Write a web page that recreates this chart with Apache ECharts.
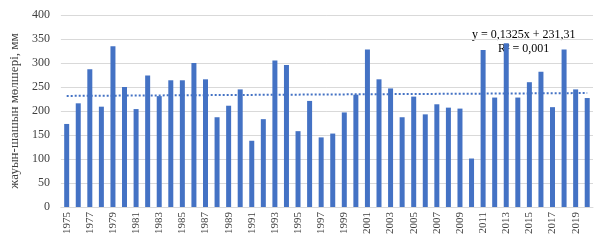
<!DOCTYPE html>
<html>
<head>
<meta charset="utf-8">
<script src="https://cdn.jsdelivr.net/npm/echarts@6/dist/echarts.min.js"></script>
<style>html,body{margin:0;padding:0;background:#fff}#c{width:609px;height:248px}</style>
</head>
<body>
<div id="c"></div>
<script>
var years = [];
for (var y = 1975; y <= 2020; y++) years.push(String(y));
var precipitation = [173, 216, 287, 209, 335, 250, 204, 274, 231, 264, 264, 300,
  266, 187, 211, 245, 138, 183, 305, 296, 158, 221, 145, 153, 197, 234,
  328, 266, 247, 187, 230, 193, 214, 207, 205, 101, 327, 228, 341, 228,
  260, 282, 208, 328, 245, 227];
var trendEnds = [231.44, 237.41];
var yTicks = [0, 50, 100, 150, 200, 250, 300, 350, 400];
var yAxisTitle = 'жауын-шашын мөлшері, мм';
var equationLines = ['y = 0,1325x + 231,31', 'R² = 0,001'];

var chart = echarts.init(document.getElementById('c'), null, {renderer: 'canvas'});
var serif = '"Liberation Serif", "DejaVu Serif", serif';
chart.setOption({
  animation: false,
  grid: {left: 60, right: 16, top: 15, bottom: 41, containLabel: false},
  xAxis: {
    type: 'category',
    data: years,
    boundaryGap: true,
    axisLine: {show: true, lineStyle: {color: '#d9d9d9', width: 1}},
    axisTick: {show: false},
    axisLabel: {interval: 1, rotate: 90, fontFamily: serif, fontSize: 11, color: '#404040', margin: 5}
  },
  yAxis: {
    type: 'value',
    min: yTicks[0],
    max: yTicks[yTicks.length - 1],
    interval: yTicks[1] - yTicks[0],
    name: yAxisTitle,
    nameLocation: 'middle',
    nameGap: 31,
    nameRotate: 90,
    nameTextStyle: {fontFamily: serif, fontSize: 13, color: '#404040'},
    axisLine: {show: false},
    axisTick: {show: false},
    axisLabel: {fontFamily: serif, fontSize: 12, color: '#404040', margin: 11},
    splitLine: {lineStyle: {color: '#d9d9d9', width: 1}}
  },
  series: [{
    type: 'bar',
    data: precipitation,
    barWidth: 5,
    itemStyle: {color: '#4472C4'},
    markLine: {
      silent: true,
      symbol: ['none', 'none'],
      label: {show: false},
      lineStyle: {color: '#4472C4', type: [2, 2], width: 2},
      data: [[{coord: [years[0], trendEnds[0]]}, {coord: [years[years.length - 1], trendEnds[1]]}]]
    }
  }],
  graphic: [
    {type: 'text', left: 472, top: 29, style: {text: equationLines[0], font: '12px ' + serif, fill: '#000'}},
    {type: 'text', left: 498, top: 43, style: {text: equationLines[1], font: '12px ' + serif, fill: '#000'}}
  ]
});
</script>
</body>
</html>
